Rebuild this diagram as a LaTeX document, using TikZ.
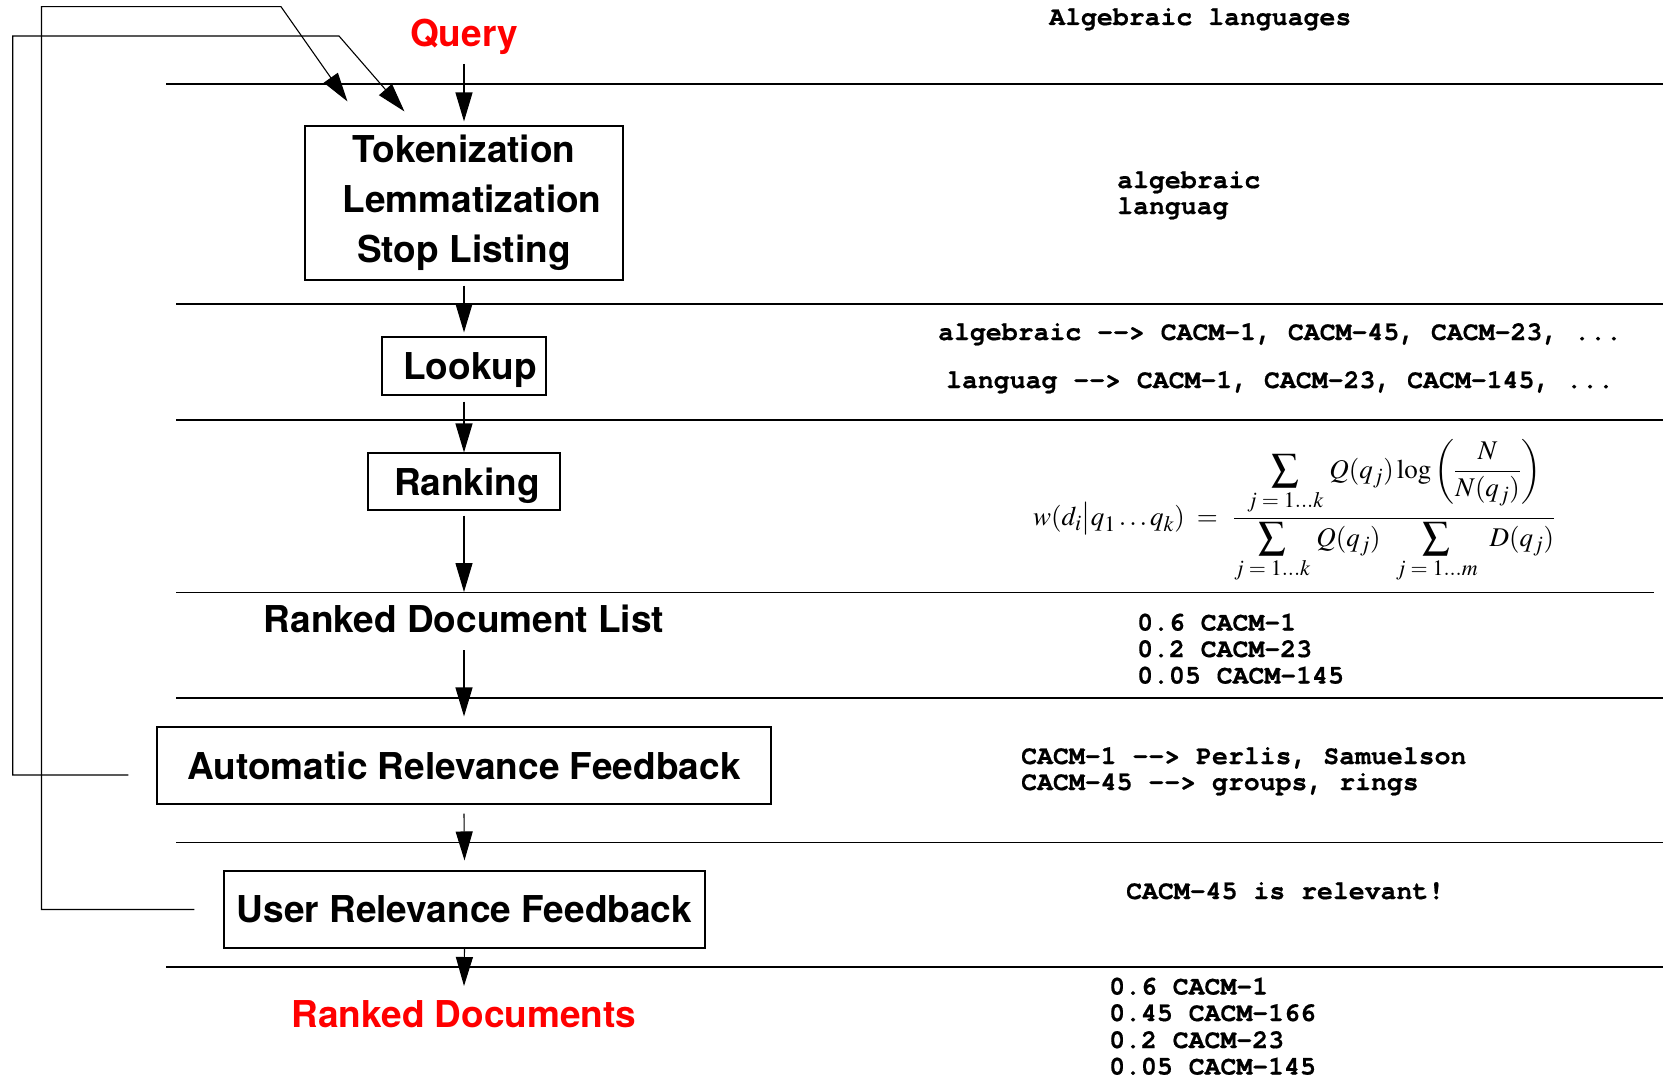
\documentclass[tikz,border=0pt]{standalone}
\usepackage{amsmath}
\usepackage{mathptmx}
\usepackage{fontspec}
\setmainfont{Liberation Serif}
\newfontfamily\hv{TeX Gyre Heros}
\newfontfamily\cour[Ligatures=TeXOff,BoldFeatures={FakeBold=0.6}]{TeX Gyre Cursor}
\DeclareMathSizes{27}{27}{22}{16}
\usetikzlibrary{arrows.meta}

\begin{document}
\begin{tikzpicture}[x=1pt,y=-1pt,
  sep/.style={line width=1.1pt},
  flow/.style={line width=1.1pt, -{Triangle[length=29pt,width=17pt]}},
  stepbox/.style={draw, line width=1.1pt, inner sep=0pt, align=center,
    text depth=0pt, font=\hv\bfseries\fontsize{37}{50}\selectfont},
  title/.style={inner sep=0pt, anchor=base, font=\hv\bfseries\fontsize{37}{44}\selectfont},
  io/.style={title, text=red},
  mono/.style={inner sep=0pt, anchor=base west, font=\cour\bfseries\fontsize{26.5}{26.5}\selectfont},
]
\useasboundingbox (0,0) rectangle (1663,1081);
\fill[white] (0,0) rectangle (1663,1081);

% stage separators
\draw[sep] (166,84)    -- (1663,84);
\draw[sep] (176,304)   -- (1663,304);
\draw[sep] (176,420)   -- (1663,420);
\draw[sep] (176,592.5) -- (1654,592.5);
\draw[sep] (176,698)   -- (1663,698);
\draw[sep] (176,842.5) -- (1663,842.5);
\draw[sep] (166,967)   -- (1663,967);

% processing stages
\node[io] (query) at (464,47) {Query};
\node[stepbox, text depth=8pt, minimum width=318pt, minimum height=154pt] (tok) at (464,203)
  {Tokenization\\ \hspace*{16pt}Lemmatization\\ Stop Listing};
\node[stepbox, minimum width=164pt, minimum height=58pt] (lookup) at (464,366) {\hspace*{12pt}Lookup};
\node[stepbox, minimum width=192pt, minimum height=57pt] (rank) at (464,481.5) {\hspace*{6pt}Ranking};
\node[title] (rdl) at (464,632) {Ranked Document List};
\node[stepbox, minimum width=614pt, minimum height=77pt] (arf) at (464,765.5) {Automatic Relevance Feedback};
\node[stepbox, minimum width=481pt, minimum height=77pt] (urf) at (464.5,909.5) {User Relevance Feedback};
\node[io] (rdocs) at (464,1027) {Ranked Documents};

% main flow
\draw[flow] ([yshift=-17pt]query.base) -- ([yshift=4pt]tok.north);
\draw[flow] ([yshift=-5pt]tok.south) -- ([yshift=4pt]lookup.north);
\draw[flow] ([yshift=-6pt]lookup.south) -- (rank.north);
\draw[flow] ([yshift=-5pt]rank.south) -- ([yshift=40pt]rdl.base);
\draw[flow] ([yshift=-18pt]rdl.base) -- ([yshift=10pt]arf.north);
\draw[flow] ([yshift=-9pt]arf.south) -- ([yshift=10pt]urf.north);
\draw[flow] (urf.south) -- ([yshift=41pt]rdocs.base);

% feedback loops back to the query processing
\coordinate (loopA) at (12.7,36);
\coordinate (bendA) at (339,36);
\coordinate (loopB) at (41.5,6.7);
\coordinate (bendB) at (281,6.7);
\draw[flow] ([xshift=-28pt,yshift=-9.5pt]arf.west) -| (loopA) -- (bendA)
  -- ([xshift=100pt,yshift=14pt]tok.north west);
\draw[flow] ([xshift=-29pt]urf.west) -| (loopB) -- (bendB)
  -- ([xshift=43pt,yshift=24pt]tok.north west);

% example data for each stage
\node[mono] (ex0) at (1049,25) {Algebraic languages};
\node[mono] (ex1a) at (1117,188) {algebraic};
\node[mono] (ex1b) at (1117,214) {languag};
\node[mono, anchor=base] (ex2a) at (1280,340) {algebraic --> CACM-1, CACM-45, CACM-23, ...};
\node[mono, anchor=base] (ex2b) at (1280,388) {languag --> CACM-1, CACM-23, CACM-145, ...};
\node[anchor=west, inner sep=0pt, font=\fontsize{27}{32}\selectfont] (ex3) at (1033,511)
  {$\displaystyle w(d_i\big|q_1\ldots q_k) \;=\;\,
   \frac{\displaystyle\sum_{j\;=\;1\ldots k}\, Q(q_j)\log\left(\frac{N}{N(q_j)}\right)}
        {\displaystyle\sum_{j\;=\;1\ldots k}\, Q(q_j)\;\;\sum_{j\;=\;1\ldots m}\;\, D(q_j)}$};
\node[mono] (ex4a) at (1137,630.5) {0.6 CACM-1};
\node[mono] (ex4b) at (1137,657)   {0.2 CACM-23};
\node[mono] (ex4c) at (1137,683.5) {0.05 CACM-145};
\node[mono] (ex5a) at (1021,764) {CACM-1 --> Perlis, Samuelson};
\node[mono] (ex5b) at (1021,790) {CACM-45 --> groups, rings};
\node[mono] (ex6) at (1126,899) {CACM-45 is relevant!};
\node[mono] (ex7a) at (1109,994.5) {0.6 CACM-1};
\node[mono] (ex7b) at (1109,1021)  {0.45 CACM-166};
\node[mono] (ex7c) at (1109,1048)  {0.2 CACM-23};
\node[mono] (ex7d) at (1109,1074.5) {0.05 CACM-145};
\end{tikzpicture}
\end{document}
